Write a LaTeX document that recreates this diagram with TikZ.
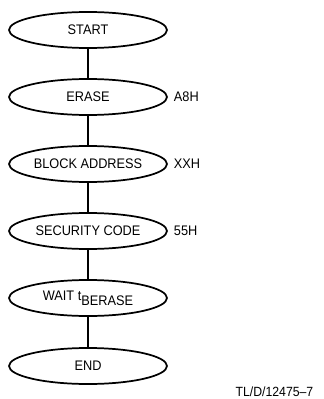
\documentclass[tikz,border=0pt]{standalone}
\usepackage{fontspec}
\setmainfont{Liberation Sans}[FakeStretch=0.92]
\usetikzlibrary{
  shapes.geometric,%
  positioning
}
\tikzset{>=latex}
\tikzset{font=\fontsize{10.4}{12}\selectfont}
\tikzset{stepnode/.style={ellipse, draw, line width=1.3pt, inner sep=0pt,
    minimum width=118.5pt, minimum height=27pt}}
\tikzset{hexnote/.style={right=1pt of #1}}

\begin{document}
\begin{tikzpicture}[x=0.75pt,y=-0.75pt]
          \useasboundingbox (0,0) rectangle (324,399);
          % flow of the block erase
          \node[stepnode] (start) at (88,30) {START};
          \node[stepnode] (erase) at (88,97) {ERASE};
          \node[stepnode] (addr) at (88,164) {BLOCK ADDRESS};
          \node[stepnode] (code) at (88,231) {SECURITY CODE};
          \node[stepnode] (wait) at (88,298) {WAIT t\raisebox{-3.5pt}{BERASE}};
          \node[stepnode] (finish) at (88,366) {END};
          \foreach \a/\b in {start/erase, erase/addr, addr/code, code/wait, wait/finish}
            \draw[line width=1.3pt] (\a) -- (\b);
          % data written at each step
          \node[hexnote=erase] (erasehex) {A8H};
          \node[hexnote=addr] (addrhex) {XXH};
          \node[hexnote=code] (codehex) {55H};
          \node[anchor=east, font=\fontsize{10}{12}\selectfont] (figid) at (318,392) {TL/D/12475--7};
        \end{tikzpicture}
\end{document}
